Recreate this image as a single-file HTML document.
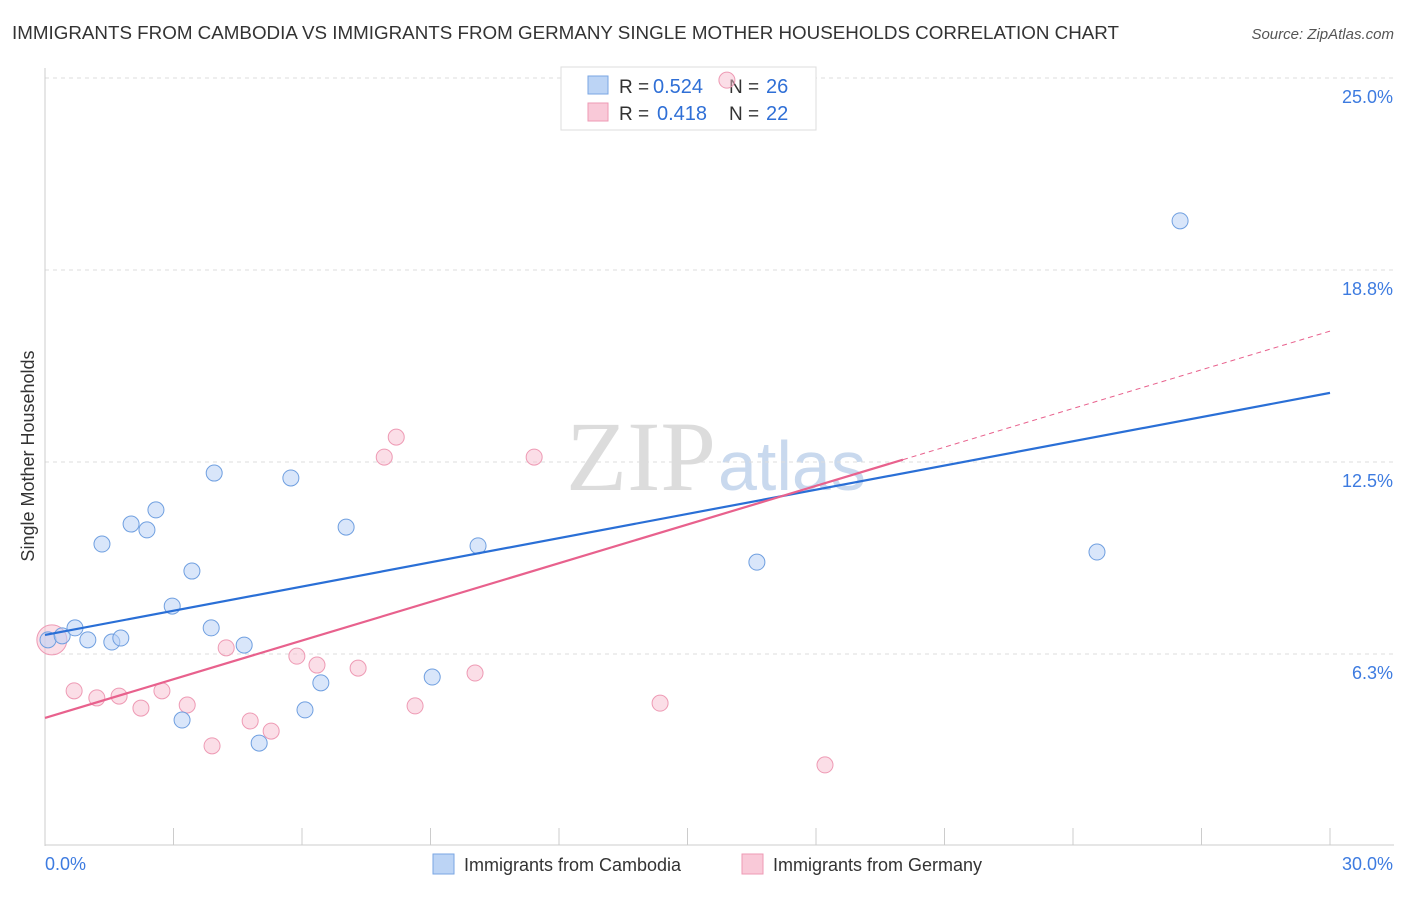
<!DOCTYPE html>
<html><head><meta charset="utf-8"><style>
body{margin:0;background:#fff;font-family:"Liberation Sans",sans-serif}
</style></head><body>
<svg id="chart" width="1406" height="892" font-family="Liberation Sans, sans-serif">
<text x="12" y="39" font-size="18" fill="#333" textLength="1107" lengthAdjust="spacingAndGlyphs">IMMIGRANTS FROM CAMBODIA VS IMMIGRANTS FROM GERMANY SINGLE MOTHER HOUSEHOLDS CORRELATION CHART</text>
<text x="1394" y="39" font-size="15" fill="#555" font-style="italic" text-anchor="end">Source: ZipAtlas.com</text>
<text x="716" y="490" font-size="100" fill="#dcdcdc" text-anchor="end" style="font-family:'Liberation Serif',serif">ZIP</text>
<text x="718" y="490" font-size="70" fill="#c9d9ee">atlas</text>
<text x="34" y="456" font-size="18" fill="#333" text-anchor="middle" transform="rotate(-90 34 456)">Single Mother Households</text>
<g id="grid"></g>
<g>
<rect x="561" y="67" width="255" height="63" fill="#fff" stroke="#ddd"/>
<rect x="588" y="76" width="20" height="18" fill="#bcd4f5" stroke="#7aa6e3"/>
<text x="619" y="93" font-size="19" fill="#333">R =</text>
<text x="653" y="93" font-size="20" fill="#2f6fd6">0.524</text>
<text x="729" y="93" font-size="19" fill="#333">N =</text>
<text x="766" y="93" font-size="20" fill="#2f6fd6">26</text>
<rect x="588" y="103" width="20" height="18" fill="#f9c9d8" stroke="#ee9ab4"/>
<text x="619" y="120" font-size="19" fill="#333">R =</text>
<text x="657" y="120" font-size="20" fill="#2f6fd6">0.418</text>
<text x="729" y="120" font-size="19" fill="#333">N =</text>
<text x="766" y="120" font-size="20" fill="#2f6fd6">22</text>
</g>
<g id="marks"></g>
<g>
<rect x="433" y="854" width="21" height="20" fill="#bcd4f5" stroke="#7aa6e3"/>
<text x="464" y="871" font-size="18" fill="#333">Immigrants from Cambodia</text>
<rect x="742" y="854" width="21" height="20" fill="#f9c9d8" stroke="#ee9ab4"/>
<text x="773" y="871" font-size="18" fill="#333">Immigrants from Germany</text>
</g>
</svg>
<script>
const yTicks=[25.0,18.8,12.5,6.3];
const yTickLabels=["25.0%","18.8%","12.5%","6.3%"];
const xTickCount=10;
const cambodiaX=[0.07,0.40,0.70,1.00,1.33,1.56,1.77,2.01,2.38,2.59,2.97,3.20,3.43,3.88,3.95,4.65,5.00,5.74,6.07,6.44,7.03,9.04,10.11,16.62,24.56,26.50];
const cambodiaY=[6.71,6.84,7.10,6.71,9.83,6.64,6.77,10.48,10.29,10.94,7.81,4.10,8.95,7.10,12.14,6.54,3.35,11.98,4.43,5.31,10.38,5.50,9.77,9.24,9.57,20.35];
const germanyX=[0.16,0.68,1.21,1.73,2.24,2.73,3.32,3.90,4.23,4.79,5.28,5.88,6.35,7.31,7.92,8.20,8.64,10.04,11.42,14.36,15.92,18.21];
const germanyY=[6.71,5.05,4.82,4.88,4.49,5.05,4.59,3.26,6.45,4.07,3.74,6.18,5.89,5.79,12.66,13.31,4.56,5.63,12.66,4.65,24.93,2.64];
const cambodiaFit=[6.87,14.75];
const germanyFit=[4.17,16.76];
const germanySolidEnd=20.03;
const X=v=>45+v*(1285/30), Y=v=>846-v*30.72;
const NS="http://www.w3.org/2000/svg";
function mk(p,t,a){const e=document.createElementNS(NS,t);for(const k in a)e.setAttribute(k,a[k]);p.appendChild(e);return e;}
const g=document.getElementById('grid'), m=document.getElementById('marks');
yTicks.forEach((t,i)=>{
 const yy=Y(t===18.8?18.75:t===6.3?6.25:t);
 const l=mk(g,'line',{x1:45,x2:1394,y1:yy,y2:yy,stroke:'#ddd','stroke-dasharray':'4,4'});
 
 
 const tx=mk(g,'text',{x:1393,y:yy+25,'font-size':18,fill:'#3d7be0','text-anchor':'end'});
 tx.textContent=yTickLabels[i];
 
 
});
mk(g,'line',{x1:45,x2:45,y1:68,y2:846,stroke:'#ccc'});
mk(g,'line',{x1:45,x2:1394,y1:845,y2:845,stroke:'#ccc'});
for(let i=0;i<=xTickCount;i++){const x=X(i*3);const t=mk(g,'line',{x1:x,x2:x,y1:828,y2:845,stroke:'#ccc'});
 
 }
const x0=mk(g,'text',{x:45,y:870,'font-size':18,fill:'#3d7be0'});x0.textContent='0.0%';


const x1=mk(g,'text',{x:1393,y:870,'font-size':18,fill:'#3d7be0','text-anchor':'end'});x1.textContent='30.0%';


germanyX.forEach((v,i)=>{const c=mk(m,'circle',{cx:X(v),cy:Y(germanyY[i]),r:i===0?15:8,fill:'rgba(247,190,208,0.5)',stroke:'#ee9ab4','stroke-width':1});
 
 });
cambodiaX.forEach((v,i)=>{const c=mk(m,'circle',{cx:X(v),cy:Y(cambodiaY[i]),r:8,fill:'rgba(185,210,245,0.55)',stroke:'#6f9fe0','stroke-width':1});
 
 });
const gy=x=>germanyFit[0]+(germanyFit[1]-germanyFit[0])*x/30;
const bl=mk(m,'line',{x1:X(0),y1:Y(cambodiaFit[0]),x2:X(30),y2:Y(cambodiaFit[1]),stroke:'#2a6fd6','stroke-width':2.2});


const pl=mk(m,'line',{x1:X(0),y1:Y(gy(0)),x2:X(germanySolidEnd),y2:Y(gy(germanySolidEnd)),stroke:'#e8618d','stroke-width':2.2});


const pd=mk(m,'line',{x1:X(germanySolidEnd),y1:Y(gy(germanySolidEnd)),x2:X(30),y2:Y(gy(30)),stroke:'#e8618d','stroke-width':1,'stroke-dasharray':'5,4'});


</script>
</body></html>
